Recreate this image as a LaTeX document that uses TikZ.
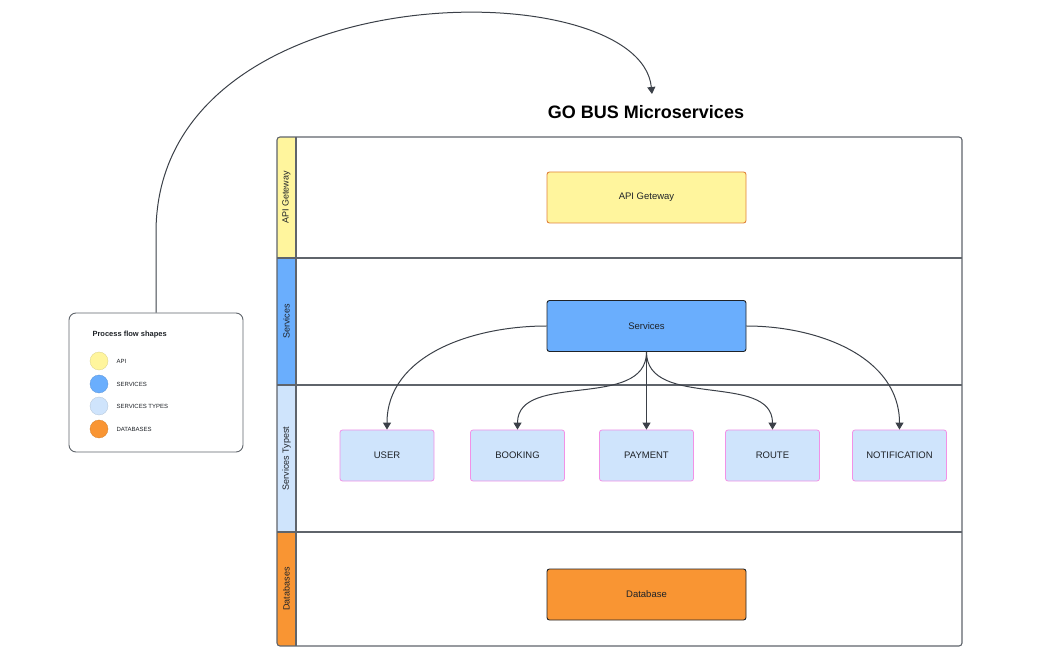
\documentclass[tikz,border=0pt]{standalone}
\usepackage{fontspec}
\setmainfont{Liberation Sans}
\usetikzlibrary{arrows.meta}
\definecolor{ink}{HTML}{1F2328}
\definecolor{wire}{HTML}{3B4048}
\definecolor{poolgray}{HTML}{5F646B}
\definecolor{apiyellow}{HTML}{FFF59D}
\definecolor{apiedge}{HTML}{E0823A}
\definecolor{srvblue}{HTML}{6AAEFD}
\definecolor{typeblue}{HTML}{CFE4FC}
\definecolor{typeedge}{HTML}{F291E6}
\definecolor{dborange}{HTML}{F99533}
\tikzset{
  box/.style={draw=ink, line width=0.9pt, rounded corners=2.5pt, minimum width=199pt,
    minimum height=51pt, font=\fontsize{9.5}{11}\selectfont, text=ink},
  typebox/.style={draw=typeedge, fill=typeblue, line width=0.8pt, rounded corners=2.5pt,
    minimum width=94pt, minimum height=51pt, font=\fontsize{9.5}{11}\selectfont, text=ink},
  lanelabel/.style={rotate=90, font=\fontsize{9}{10}\selectfont, text=ink},
  pool/.style={draw=poolgray, line width=1.1pt},
  flow/.style={draw=wire, line width=1pt, -{Triangle[length=7pt,width=8pt]}},
  legendtext/.style={anchor=west, font=\fontsize{6}{7}\selectfont, text=ink}
}
\begin{document}
\begin{tikzpicture}[x=1pt,y=-1pt]
\useasboundingbox (0,0) rectangle (1053,668);
% swimlanes
\begin{scope}
  \clip[rounded corners=3pt] (277,137) rectangle (962,646);
  \fill[apiyellow] (277,137) rectangle (296,258);
  \fill[srvblue] (277,258) rectangle (296,385);
  \fill[typeblue] (277,385) rectangle (296,532);
  \fill[dborange] (277,532) rectangle (296,646);
\end{scope}
\draw[pool, rounded corners=3pt] (277,137) rectangle (962,646);
\draw[pool] (296,137) -- (296,646);
\foreach \y in {258,385,532}
  \draw[pool] (277,\y) -- (962,\y);
\node[lanelabel] (laneapi) at (286.5,197.5) {API Geteway};
\node[lanelabel] (lanesrv) at (286.5,321.5) {Services};
\node[lanelabel] (lanetype) at (286.5,458.5) {Services Typest};
\node[lanelabel] (lanedb) at (286.5,589) {Databases};
% title
\node[font=\bfseries\fontsize{18}{20}\selectfont, text=black] (title) at (646,112) {GO BUS Microservices};
\coordinate (titletop) at (652,94);
% boxes
\node[box, fill=apiyellow, draw=apiedge] (api) at (646.5,197.5) {API Geteway};
\node[box, fill=srvblue] (srv) at (646.5,326) {Services};
\node[typebox] (user) at (387,455.5) {USER};
\node[typebox] (booking) at (517.5,455.5) {BOOKING};
\node[typebox] (payment) at (646.5,455.5) {PAYMENT};
\node[typebox] (route) at (772.5,455.5) {ROUTE};
\node[typebox] (notif) at (899.5,455.5) {NOTIFICATION};
\node[box, fill=dborange] (db) at (646.5,594.5) {Database};
% legend
\node[draw=poolgray, line width=0.9pt, rounded corners=7pt, minimum width=174pt,
  minimum height=139pt, fill=white] (legend) at (156,382.5) {};
\node[anchor=west, font=\bfseries\fontsize{7.5}{8}\selectfont, text=ink] (legendtitle) at (89,335) {Process flow shapes};
\foreach \y/\c/\t [count=\i] in {361/apiyellow/API, 384/srvblue/SERVICES,
    406/typeblue/SERVICES TYPES, 429/dborange/DATABASES} {
  \node[circle, fill=\c, draw=\c!85!black, line width=0.3pt, minimum size=18pt, inner sep=0pt] (dot\i) at (99,\y) {};
  \node[legendtext] (key\i) at (113,\y) {\t};
}
% connectors
\draw[flow] (legend.north) -- ++(0,-80) .. controls (156,-30) and (640,-30) .. (titletop);
\draw[flow] (srv.west) to[out=180,in=90] (user.north);
\draw[flow] (srv.south) to[out=-90,in=90] (booking.north);
\draw[flow] (srv.south) -- (payment.north);
\draw[flow] (srv.south) to[out=-90,in=90] (route.north);
\draw[flow] (srv.east) to[out=0,in=90] (notif.north);
\end{tikzpicture}
\end{document}
